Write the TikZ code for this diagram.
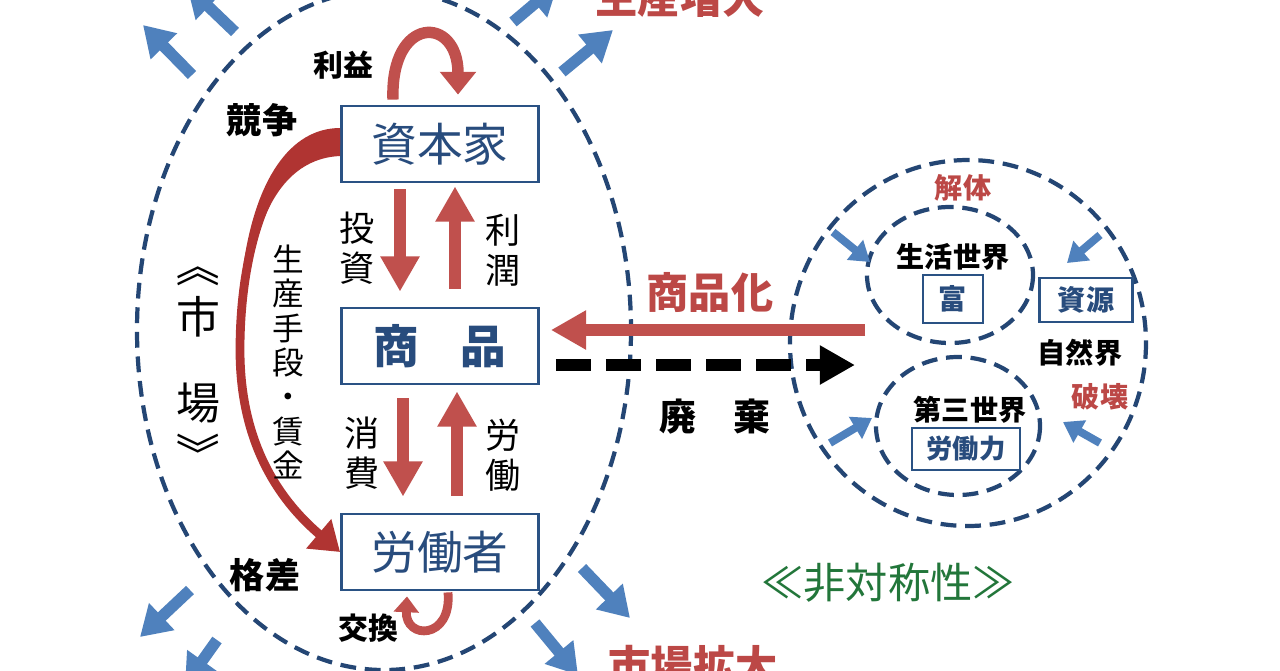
\documentclass[tikz,border=0pt]{standalone}
\usepackage{fontspec}
\setmainfont{Noto Sans CJK JP}
\usetikzlibrary{arrows.meta,calc}
\definecolor{ringblue}{RGB}{36,70,116}
\definecolor{boxblue}{RGB}{42,82,132}
\definecolor{boxtext}{RGB}{40,76,125}
\definecolor{redA}{RGB}{192,80,77}
\definecolor{redB}{RGB}{176,52,50}
\definecolor{redtext}{RGB}{188,72,70}
\definecolor{blueA}{RGB}{79,129,189}
\definecolor{greenA}{RGB}{34,118,58}
\tikzset{
  mainbox/.style={draw=boxblue, fill=white, line width=1.6pt, minimum width=3.94cm, minimum height=1.52cm, inner sep=0pt, text=boxtext, font=\fontsize{26}{30}\selectfont},
  subbox/.style={draw=boxblue, line width=1.4pt, inner sep=0pt, text=boxtext, font=\bfseries\fontsize{16}{18}\selectfont},
  word/.style={font=\bfseries\fontsize{20}{23}\selectfont},
  smallword/.style={font=\bfseries\fontsize{16}{18}\selectfont},
  vword/.style={font=\fontsize{20}{23}\selectfont, align=center},
  mkt/.style={font=\fontsize{25}{28}\selectfont, inner sep=0pt},
  redword/.style={text=redtext, font=\bfseries\fontsize{24}{26}\selectfont},
  ring/.style={draw=ringblue, line width=2.4pt, dash pattern=on 9pt off 5pt},
  redarrow/.style={-{Triangle[length=20pt,width=21pt]}, line width=6.5pt, redA},
  turnarrow/.style={-{Triangle[length=13pt,width=20pt]}, line width=6.5pt, redA},
  smallturn/.style={-{Triangle[length=9pt,width=14pt]}, line width=5pt, redA},
  bigcurve/.style={-{Triangle[length=16pt,width=21pt]}, line width=5pt, redB},
  wastearrow/.style={-{Triangle[length=20pt,width=21pt]}, line width=6.5pt, black, dash pattern=on 20pt off 8.5pt},
  outarrow/.style={-{Triangle[length=17pt,width=20pt]}, line width=6.5pt, blueA},
  inarrow/.style={-{Triangle[length=11pt,width=14pt]}, line width=4.5pt, blueA}
}

\begin{document}
\begin{tikzpicture}[x=0.2mm, y=-0.2mm]
  \path[use as bounding box, fill=white] (0,0) rectangle (1280,670);

  % market and the outside world
  \draw[ring] (384,330) ellipse [x radius=247, y radius=340];
  \draw[ring] (968,343) ellipse [x radius=178, y radius=183];
  \draw[ring] (950,275) ellipse [x radius=83, y radius=68];
  \draw[ring] (958,426) ellipse [x radius=82, y radius=69];

  \foreach \n/\sx/\sy/\ex/\ey in {tl1/192/75/143/25, tl2/235/32/187/-14, tr1/513/22/558/-16, tr2/562/72/613/30,
      bl1/190/590/140/637, bl2/217/640/185/685, br1/582/568/630/618, br2/535/623/578/675} {
    \coordinate (\n-a) at (\sx,\sy);
    \coordinate (\n-b) at (\ex,\ey);
    \draw[outarrow] (\n-a) -- (\n-b);
  }
  \foreach \n/\sx/\sy/\ex/\ey in {ra/833/232/870/262, rb/1100/235/1067/263, rc/830/443/872/418, rd/1100/443/1063/422} {
    \coordinate (\n-a) at (\sx,\sy);
    \coordinate (\n-b) at (\ex,\ey);
    \draw[inarrow] (\n-a) -- (\n-b);
  }

  \node[mainbox] (cap) at (440,144) {資本家};
  \node[mainbox, font=\bfseries\fontsize{26}{30}\selectfont] (goods) at (440,346) {商\hspace{0.9em}品};
  \node[mainbox] (worker) at (440,552) {労働者};

  \draw[redarrow] ($(cap.south)+(-40,6)$) -- ($(goods.north)+(-40,-15)$);
  \draw[redarrow] ($(goods.north)+(15,-18)$) -- ($(cap.south)+(15,3)$);
  \draw[redarrow] ($(goods.south)+(-37,13)$) -- ($(worker.north)+(-37,-16)$);
  \draw[redarrow] ($(worker.north)+(17,-17)$) -- ($(goods.south)+(17,6)$);
  \draw[turnarrow] ($(cap.north)+(-47,-5)$) .. controls (390,15) and (458,15) .. ($(cap.north)+(18,-10)$);
  \draw[smallturn] ($(worker.south)+(8,1)$) .. controls (452,640) and (405,640) .. ($(worker.south)+(-33,5)$);
  \draw[bigcurve] ($(cap.west)+(0,-3)$) .. controls (275,140) and (240,240) .. (240,350)
    .. controls (240,450) and (285,505) .. (worker.west);
  % thicker start of the curve
  \fill[redB] ($(cap.west)+(0,-16)$) .. controls (290,128) and (255,180) .. (243,268)
    -- (251,268) .. controls (262,200) and (292,158) .. ($(cap.west)+(0,12)$) -- cycle;

  \coordinate (commodify) at (865,330);
  \coordinate (dump) at (855,365);
  \draw[redarrow] (commodify) -- ($(goods.east)+(11,-16)$);
  \draw[wastearrow] ($(goods.east)+(16,19)$) -- (dump);

  % labels
  \node[smallword, font=\bfseries\fontsize{17}{19}\selectfont] (profitA) at (343,65) {利益};
  \node[word] (compete) at (262,120) {競争};
  \node[word] (gap) at (265,575) {格差};
  \node[smallword, font=\bfseries\fontsize{17}{19}\selectfont] (exchange) at (368,628) {交換};
  \node[vword] (invest) at (357,248) {投\\資};
  \node[vword] (profitB) at (503,250) {利\\潤};
  \node[vword] (consume) at (362,453) {消\\費};
  \node[vword] (labour) at (503,455) {労\\働};
  \node[vword, font=\fontsize{18}{19.6}\selectfont] (means) at (288,362) {生\\産\\手\\段\\・\\賃\\金};
  \node[mkt, rotate=-90] (mktA) at (198,265) {《};
  \node[mkt] (mktB) at (198,317) {市};
  \node[mkt] (mktC) at (198,403) {場};
  \node[mkt, rotate=-90] (mktD) at (198,454) {》};
  \node[redword] (growth) at (680,-3) {生産増大};
  \node[redword] (expand) at (693,665) {市場拡大};
  \node[redword] (commod) at (710,292) {商品化};
  \node[word, font=\bfseries\fontsize{21}{23}\selectfont] (waste) at (715,417) {廃\hspace{1em}棄};
  \node[text=greenA, font=\fontsize{24}{26}\selectfont] (asym) at (888,583) {≪非対称性≫};

  \node[smallword, text=redtext] (dissolve) at (963,188) {解体};
  \node[smallword] (life) at (953,257) {生活世界};
  \node[subbox, minimum width=1.2cm, minimum height=0.96cm] (wealth) at (953,299) {富};
  \node[subbox, minimum width=1.86cm, minimum height=0.88cm] (resource) at (1086,300) {資源};
  \node[smallword] (nature) at (1080,353) {自然界};
  \node[smallword, text=redtext] (destroy) at (1100,397) {破壊};
  \node[smallword] (third) at (970,410) {第三世界};
  \node[subbox, minimum width=2.16cm, minimum height=0.84cm, font=\bfseries\fontsize{15}{17}\selectfont] (labpower) at (966,449) {労働力};
\end{tikzpicture}
\end{document}
